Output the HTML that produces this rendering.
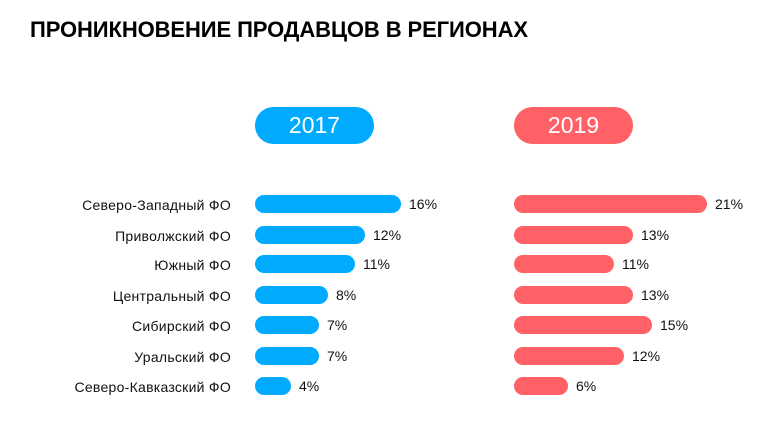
<!DOCTYPE html><html><head><meta charset="utf-8"><style>
body{margin:0;width:783px;height:430px;background:#fff;font-family:"Liberation Sans",sans-serif;position:relative;overflow:hidden}
.t{position:absolute;left:30px;top:17px;font-size:22px;font-weight:bold;color:#000;letter-spacing:-0.1px}
.p{position:absolute;top:107px;width:119px;height:37px;border-radius:19px;color:#fff;font-size:23px;text-align:center;line-height:37px}
.b{position:absolute;height:18px;border-radius:9px}
.v{position:absolute;font-size:14px;color:#111;line-height:18px}
.c{position:absolute;right:552px;font-size:14px;letter-spacing:0.27px;color:#111;line-height:18px;white-space:nowrap}
</style></head><body>
<div class="t">ПРОНИКНОВЕНИЕ ПРОДАВЦОВ В РЕГИОНАХ</div>
<div class="p" style="left:255px;background:#00aaff">2017</div>
<div class="p" style="left:514px;background:#ff6166">2019</div>
<script>
const cats=["Северо-Западный ФО","Приволжский ФО","Южный ФО","Центральный ФО","Сибирский ФО","Уральский ФО","Северо-Кавказский ФО"];
const y=[204,235,264,295,325,356,386];
const a=[[401,16],[365,12],[355,11],[328,8],[319,7],[319,7],[291,4]];
const b=[[707,21],[633,13],[614,11],[633,13],[652,15],[624,12],[568,6]];
let h="";
for(let i=0;i<7;i++){const t=y[i]-9;
h+=`<div class="c" style="top:${t+1}px">${cats[i]}</div>`;
h+=`<div class="b" style="left:255px;top:${t}px;width:${a[i][0]-255}px;background:#00aaff"></div><div class="v" style="left:${a[i][0]+8}px;top:${t}px">${a[i][1]}%</div>`;
h+=`<div class="b" style="left:514px;top:${t}px;width:${b[i][0]-514}px;background:#ff6166"></div><div class="v" style="left:${b[i][0]+8}px;top:${t}px">${b[i][1]}%</div>`;}
document.write(h);
</script>
</body></html>
